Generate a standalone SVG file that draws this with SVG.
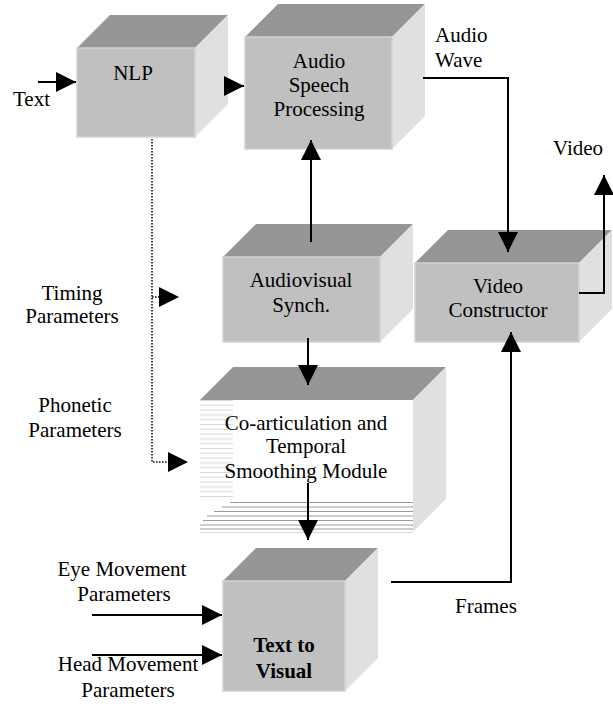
<svg xmlns="http://www.w3.org/2000/svg" width="613" height="709" viewBox="0 0 613 709" font-family="Liberation Serif, Tinos, Times New Roman, Times, DejaVu Serif, serif">
<defs>
<marker id="ah" markerUnits="userSpaceOnUse" markerWidth="21" markerHeight="20" refX="20" refY="10" orient="auto" viewBox="0 0 21 20">
<path d="M0,0 L20,10 L0,20 z" fill="#000"/>
</marker>
</defs>
<style>
.top{fill:#969696}
.side{fill:#e0e0e0}
.front{fill:#c0c0c0;stroke:#d2d2d2;stroke-width:1.5}
.wfront{fill:#fff}
text{font-size:21px;fill:#000}
.c{text-anchor:middle}
.b{font-weight:bold}
.ln{stroke:#000;stroke-width:2;fill:none}
.arr{marker-end:url(#ah)}
.dot{stroke:#000;stroke-width:1.5;fill:none;stroke-dasharray:1.5 1.5}
.hl{stroke:#d8d8d8;stroke-width:1}
.dl{stroke:#9a9a9a;stroke-width:1}
</style>

<g id="nlp">
<polygon class="top" points="77,48 110,15 228,15 195,48"/>
<polygon class="side" points="195,48 228,15 228,104 195,137"/>
<rect class="front" x="77" y="48" width="118" height="89"/>
<text class="c" x="133" y="80">NLP</text>
</g>

<g id="audio-speech">
<polygon class="top" points="245,37 278,4 425,4 392,37"/>
<polygon class="side" points="392,37 425,4 425,116 392,149"/>
<rect class="front" x="245" y="37" width="147" height="112"/>
<text class="c" x="319" y="68">Audio</text>
<text class="c" x="319" y="92">Speech</text>
<text class="c" x="319" y="116">Processing</text>
</g>

<g id="audiovisual-synch">
<polygon class="top" points="223,257 256,224 413,224 380,257"/>
<polygon class="side" points="380,257 413,224 413,309 380,342"/>
<rect class="front" x="223" y="257" width="157" height="85"/>
<text class="c" x="301" y="287">Audiovisual</text>
<text class="c" x="301" y="312">Synch.</text>
</g>

<g id="video-constructor">
<polygon class="top" points="415,263 448,230 612,230 579,263"/>
<polygon class="side" points="579,263 612,230 612,309 579,342"/>
<rect class="front" x="415" y="263" width="164" height="79"/>
<text class="c" x="498" y="293">Video</text>
<text class="c" x="498" y="317">Constructor</text>
</g>

<g id="coarticulation">
<polygon class="top" points="200,400 233,367 446,367 413,400"/>
<polygon class="side" points="413,400 446,367 446,499 413,532"/>
<rect class="wfront" x="200" y="400" width="213" height="132"/>
<g>
<line class="hl" x1="200" y1="400.5" x2="233" y2="400.5"/>
<line class="hl" x1="200" y1="405.3" x2="233" y2="405.3"/>
<line class="hl" x1="200" y1="410.1" x2="233" y2="410.1"/>
<line class="hl" x1="200" y1="414.9" x2="233" y2="414.9"/>
<line class="hl" x1="200" y1="419.7" x2="233" y2="419.7"/>
<line class="hl" x1="200" y1="424.5" x2="233" y2="424.5"/>
<line class="hl" x1="200" y1="429.3" x2="233" y2="429.3"/>
<line class="hl" x1="200" y1="434.1" x2="233" y2="434.1"/>
<line class="hl" x1="200" y1="438.9" x2="233" y2="438.9"/>
<line class="hl" x1="200" y1="443.7" x2="233" y2="443.7"/>
<line class="hl" x1="200" y1="448.5" x2="233" y2="448.5"/>
<line class="hl" x1="200" y1="453.3" x2="233" y2="453.3"/>
<line class="hl" x1="200" y1="458.1" x2="233" y2="458.1"/>
<line class="hl" x1="200" y1="462.9" x2="233" y2="462.9"/>
<line class="hl" x1="200" y1="467.7" x2="233" y2="467.7"/>
<line class="hl" x1="200" y1="472.5" x2="233" y2="472.5"/>
<line class="hl" x1="200" y1="477.3" x2="233" y2="477.3"/>
<line class="hl" x1="200" y1="482.1" x2="233" y2="482.1"/>
<line class="hl" x1="200" y1="486.9" x2="233" y2="486.9"/>
<line class="hl" x1="200" y1="491.7" x2="233" y2="491.7"/>
<line class="hl" x1="200" y1="496.5" x2="233" y2="496.5"/>
<line class="dl" x1="230" y1="502.5" x2="413" y2="502.5"/>
<line class="dl" x1="222" y1="507" x2="413" y2="507"/>
<line class="dl" x1="214" y1="511.5" x2="413" y2="511.5"/>
<line class="dl" x1="207" y1="516" x2="413" y2="516"/>
<line class="dl" x1="203" y1="520.5" x2="413" y2="520.5"/>
<line class="dl" x1="200" y1="525" x2="413" y2="525"/>
<line class="dl" x1="200" y1="529" x2="413" y2="529"/>
<line class="hl" x1="200" y1="532.5" x2="413" y2="532.5"/>
</g>
<text class="c" x="306" y="430">Co-articulation and</text>
<text class="c" x="306" y="453">Temporal</text>
<text class="c" x="306" y="478">Smoothing Module</text>
</g>

<g id="text-to-visual">
<polygon class="top" points="223,581 256,548 378,548 345,581"/>
<polygon class="side" points="345,581 378,548 378,658 345,691"/>
<rect class="front" x="223" y="581" width="122" height="110"/>
<text class="c b" x="284" y="652">Text to</text>
<text class="c b" x="284" y="678">Visual</text>
</g>

<g id="labels">
<text x="13" y="106">Text</text>
<text x="435" y="42">Audio</text>
<text x="435" y="67">Wave</text>
<text x="553" y="155">Video</text>
<text class="c" x="72" y="300">Timing</text>
<text class="c" x="72" y="323">Parameters</text>
<text class="c" x="75" y="412">Phonetic</text>
<text class="c" x="75" y="437">Parameters</text>
<text class="c" x="122" y="576">Eye Movement</text>
<text class="c" x="124" y="601">Parameters</text>
<text class="c" x="128" y="671">Head Movement</text>
<text class="c" x="128" y="697">Parameters</text>
<text x="455" y="613">Frames</text>
</g>

<g id="connectors">
<line class="ln arr" x1="38" y1="82" x2="76" y2="82"/>
<line class="ln arr" x1="228" y1="86" x2="244" y2="86"/>
<polyline class="ln" points="423,78 508,78 508,232"/>
<line class="ln arr" x1="508" y1="230" x2="508" y2="252"/>
<polyline class="ln arr" points="579,293 604,293 604,175"/>
<line class="ln arr" x1="311" y1="242" x2="311" y2="140"/>
<line class="ln arr" x1="308" y1="338" x2="308" y2="385"/>
<line class="ln arr" x1="308" y1="483" x2="308" y2="540"/>
<polyline class="ln arr" points="391,582 511,582 511,332"/>
<line class="ln arr" x1="92" y1="615" x2="222" y2="615"/>
<line class="ln arr" x1="92" y1="655" x2="222" y2="655"/>
<polyline class="dot" points="152,139 152,462 170,462"/>
<line class="ln arr" x1="168" y1="462" x2="188" y2="462" style="stroke:none"/>
<line class="dot" x1="152" y1="297" x2="159" y2="297"/>
<line class="ln arr" x1="158" y1="297" x2="179" y2="297" style="stroke:none"/>
</g>
</svg>
